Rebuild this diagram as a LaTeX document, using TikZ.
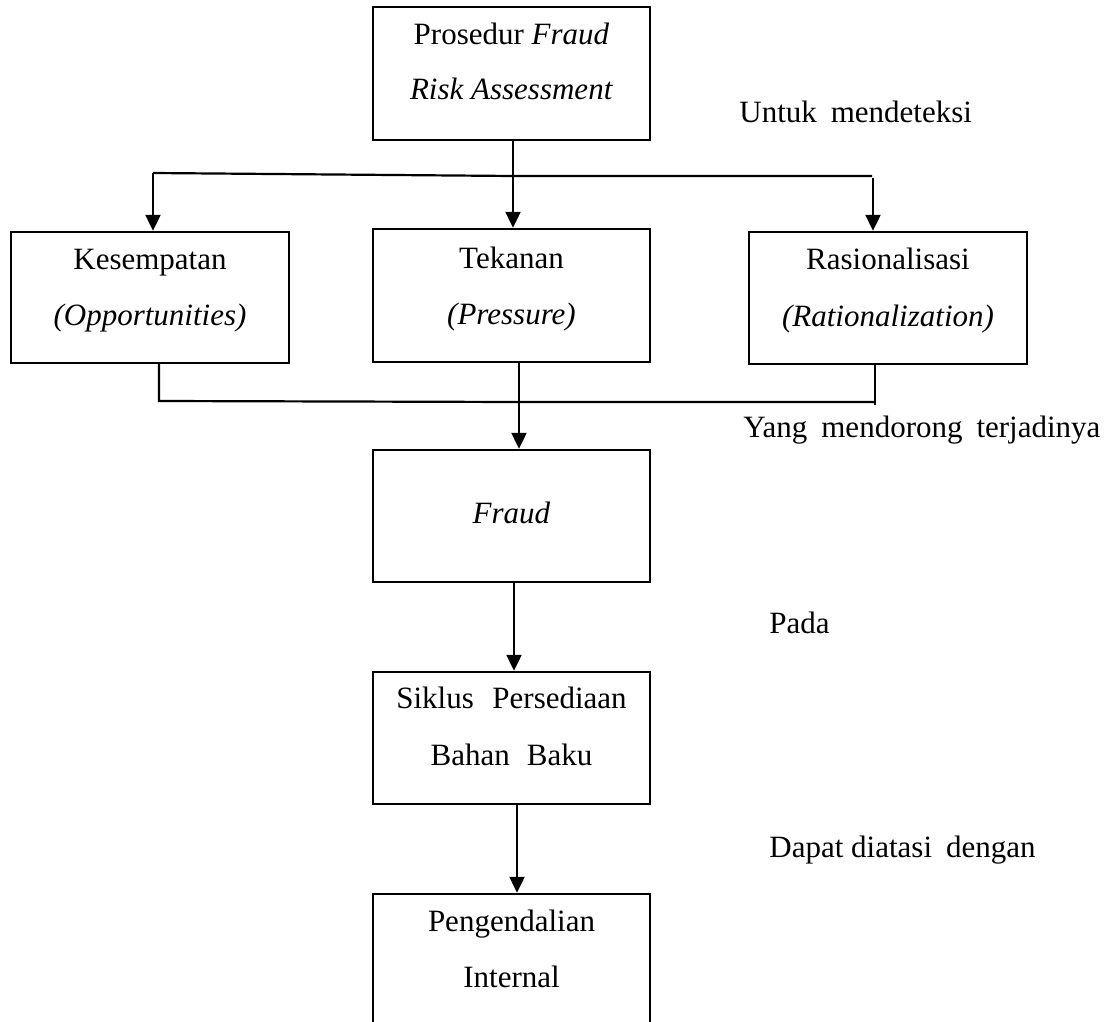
\documentclass[tikz,border=0pt]{standalone}
\usepackage{fontspec}
\setmainfont{Liberation Serif}
\usetikzlibrary{arrows.meta}
\begin{document}
\begin{tikzpicture}[x=0.5pt,y=-0.5pt,
  box/.style={draw=black,line width=1.2pt,inner sep=0pt,rectangle},
  txt/.style={inner sep=0pt,anchor=base,font=\fontsize{15.5}{18}\selectfont},
  lbl/.style={inner sep=0pt,anchor=base west,font=\fontsize{15.5}{18}\selectfont},
  ln/.style={line width=1.1pt,black},
  arr/.style={line width=1.1pt,black,-{Triangle[width=7.5pt,length=8pt]}}]
\useasboundingbox (0,0) rectangle (1106,1021);
\clip (0,0) rectangle (1106,1021);
% boxes
\node[box,minimum width=138.5pt,minimum height=66.5pt] (top) at (511.5,73.5) {};
\node[box,minimum width=139pt,minimum height=65.5pt] (kes) at (150,297.5) {};
\node[box,minimum width=138.5pt,minimum height=66.5pt] (tek) at (511.5,295.5) {};
\node[box,minimum width=139pt,minimum height=66pt] (ras) at (888,298) {};
\node[box,minimum width=138.5pt,minimum height=66pt] (fraud) at (511.5,516) {};
\node[box,minimum width=138.5pt,minimum height=66pt] (sik) at (511.5,738) {};
\node[box,minimum width=138.5pt,minimum height=73pt] (peng) at (511.5,967) {};
% box texts
\node[txt] (t1) at (511.5,45) {Prosedur \textit{Fraud}};
\node[txt] (t2) at (511.5,100) {\textit{Risk Assessment}};
\node[txt] (k1) at (150,270) {Kesempatan};
\node[txt] (k2) at (150,325) {\textit{(Opportunities)}};
\node[txt] (p1) at (511.5,269) {Tekanan};
\node[txt] (p2) at (511.5,324) {\textit{(Pressure)}};
\node[txt] (r1) at (888,270) {Rasionalisasi};
\node[txt] (r2) at (888,326) {\textit{(Rationalization)}};
\node[txt] (f1) at (511.5,523) {\textit{Fraud}};
\node[txt] (s1) at (511.5,708) {Siklus\hspace{0.35em} Persediaan};
\node[txt] (s2) at (511.5,765) {Bahan\hspace{0.3em} Baku};
\node[txt] (g1) at (511.5,931) {Pengendalian};
\node[txt] (g2) at (511.5,987) {Internal};
% side labels
\node[lbl] (l1) at (739,123) {Untuk\hspace{0.2em} mendeteksi};
\node[lbl] (l2) at (743,437) {Yang\hspace{0.2em} mendorong\hspace{0.2em} terjadinya};
\node[lbl] (l3) at (769,633) {Pada};
\node[lbl] (l4) at (769,857) {Dapat diatasi\hspace{0.2em} dengan};
% top distribution
\coordinate (tl) at (153,173);
\coordinate (tc) at (513,176);
\coordinate (tr) at (872,176);
\coordinate (tr2) at (873,178);
\draw[ln] (tl) -- (tc) -- (tr);
\draw[arr] (top.south -| tc) -- (tek.north -| tc);
\draw[arr] (tl) -- (kes.north -| tl);
\draw[arr] (tr2) -- (ras.north -| tr2);
% bottom collection
\coordinate (bl) at (159,401);
\coordinate (bc) at (519,402);
\coordinate (br) at (875,402);
\coordinate (bre) at (875,405);
\draw[ln] (kes.south -| bl) -- (bl) -- (bc) -- (br);
\draw[ln] (ras.south -| br) -- (bre);
\draw[arr] (tek.south -| bc) -- (fraud.north -| bc);
% chain
\coordinate (c1) at (514,0);
\coordinate (c2) at (517,0);
\draw[arr] (fraud.south -| c1) -- (sik.north -| c1);
\draw[arr] (sik.south -| c2) -- (peng.north -| c2);
\end{tikzpicture}
\end{document}
